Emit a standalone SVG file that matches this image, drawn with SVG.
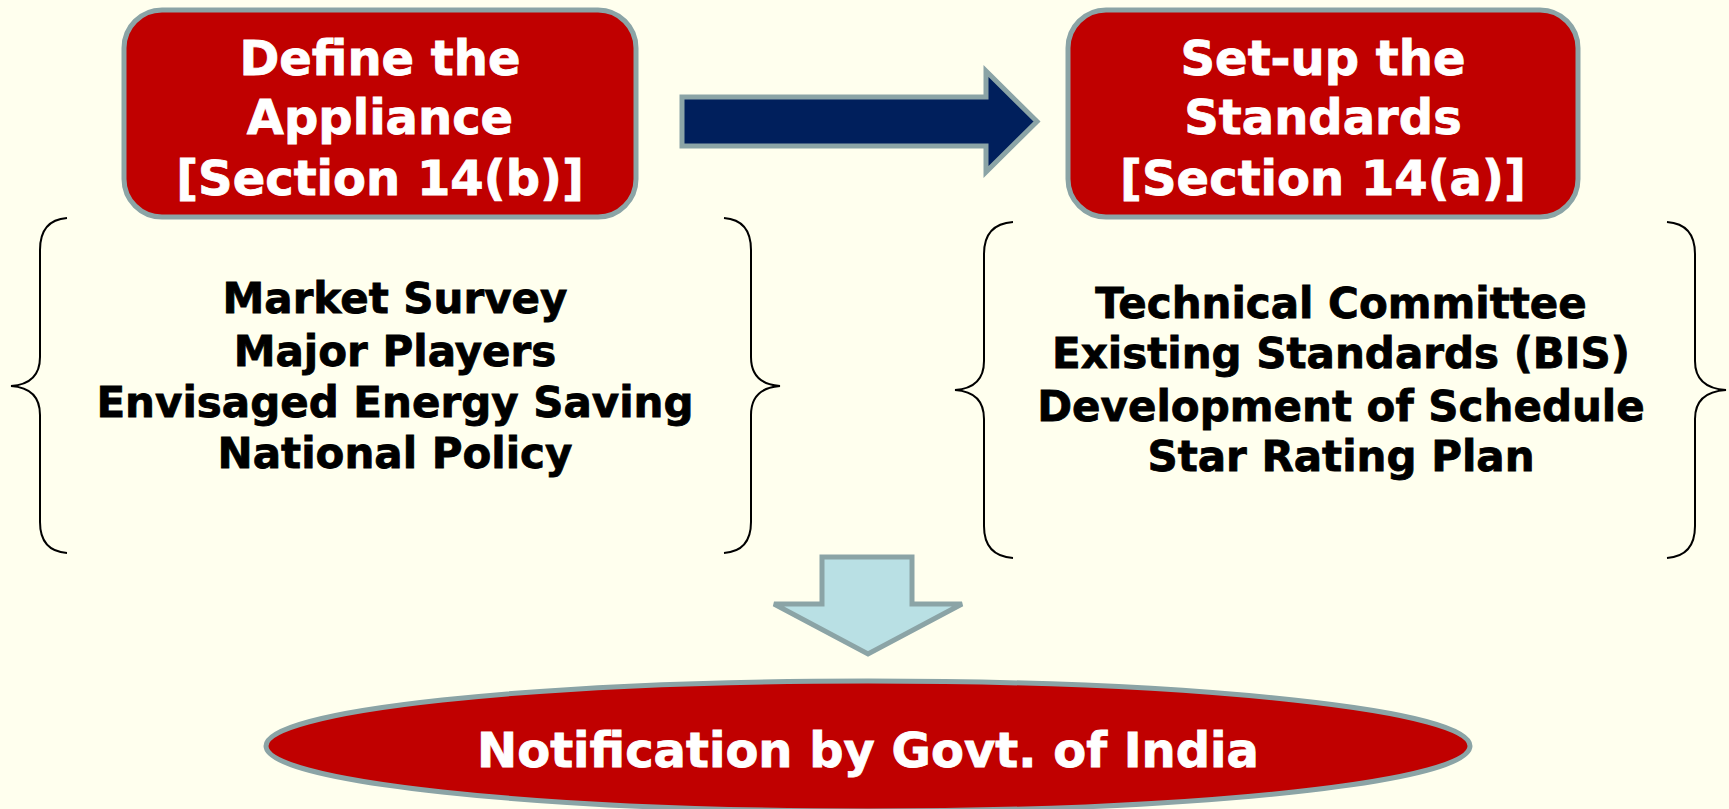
<svg xmlns="http://www.w3.org/2000/svg" width="1729" height="809" viewBox="0 0 1729 809">
<style>
.box{fill:#c00000;stroke:#8ba4a6;stroke-width:5}
.title{font-family:"DejaVu Sans",Verdana,sans-serif;font-weight:bold;font-size:48px;fill:#ffffff;stroke:#ffffff;stroke-width:0.8;text-anchor:middle}
.item{font-family:"DejaVu Sans",Verdana,sans-serif;font-weight:bold;font-size:42px;fill:#000000;stroke:#000000;stroke-width:0.8;text-anchor:middle}
.brace{fill:none;stroke:#000000;stroke-width:2}
</style>
<rect x="0" y="0" width="1729" height="809" fill="#ffffee"/>
<g id="connectors">
<path d="M682,97 L986,97 L986,71 L1037,121.5 L986,172 L986,146 L682,146 Z" fill="#001f5c" stroke="#8ba4a6" stroke-width="5"/>
<path d="M822,557 L912,557 L912,604 L962,604 L868,654 L774,604 L822,604 Z" fill="#b9e0e4" stroke="#8ba4a6" stroke-width="5"/>
</g>
<g id="node-define">
<rect class="box" x="124" y="10" width="512" height="207" rx="38"/>
<text class="title" x="380" y="75">Define the</text>
<text class="title" x="380" y="134">Appliance</text>
<text class="title" x="380" y="195">[Section 14(b)]</text>
</g>
<g id="node-setup">
<rect class="box" x="1068" y="10" width="510" height="207" rx="38"/>
<text class="title" x="1323" y="75">Set-up the</text>
<text class="title" x="1323" y="134">Standards</text>
<text class="title" x="1323" y="195">[Section 14(a)]</text>
</g>
<g id="group-left">
<path class="brace" d="M67,218 Q40,220 40,250 L40,357 Q40,384 11,386 Q40,388 40,415 L40,522 Q40,551 67,553"/>
<path class="brace" d="M724,218 Q751,220 751,250 L751,357 Q751,384 780,386 Q751,388 751,415 L751,522 Q751,551 724,553"/>
<text class="item" x="395" y="313">Market Survey</text>
<text class="item" x="395" y="366">Major Players</text>
<text class="item" x="395" y="417">Envisaged Energy Saving</text>
<text class="item" x="395" y="468">National Policy</text>
</g>
<g id="group-right">
<path class="brace" d="M1013,222 Q984,224 984,254 L984,361 Q984,388 955,390 Q984,392 984,419 L984,526 Q984,556 1013,558"/>
<path class="brace" d="M1667,222 Q1695,224 1695,254 L1695,361 Q1695,388 1726,390 Q1695,392 1695,419 L1695,526 Q1695,556 1667,558"/>
<text class="item" x="1341" y="318">Technical Committee</text>
<text class="item" x="1341" y="368">Existing Standards (BIS)</text>
<text class="item" x="1341" y="421">Development of Schedule</text>
<text class="item" x="1341" y="471">Star Rating Plan</text>
</g>
<g id="node-notification">
<ellipse cx="868" cy="746" rx="602" ry="65" fill="#c00000" stroke="#8ba4a6" stroke-width="5"/>
<text class="title" x="868" y="767" style="font-size:48px">Notification by Govt. of India</text>
</g>
</svg>
